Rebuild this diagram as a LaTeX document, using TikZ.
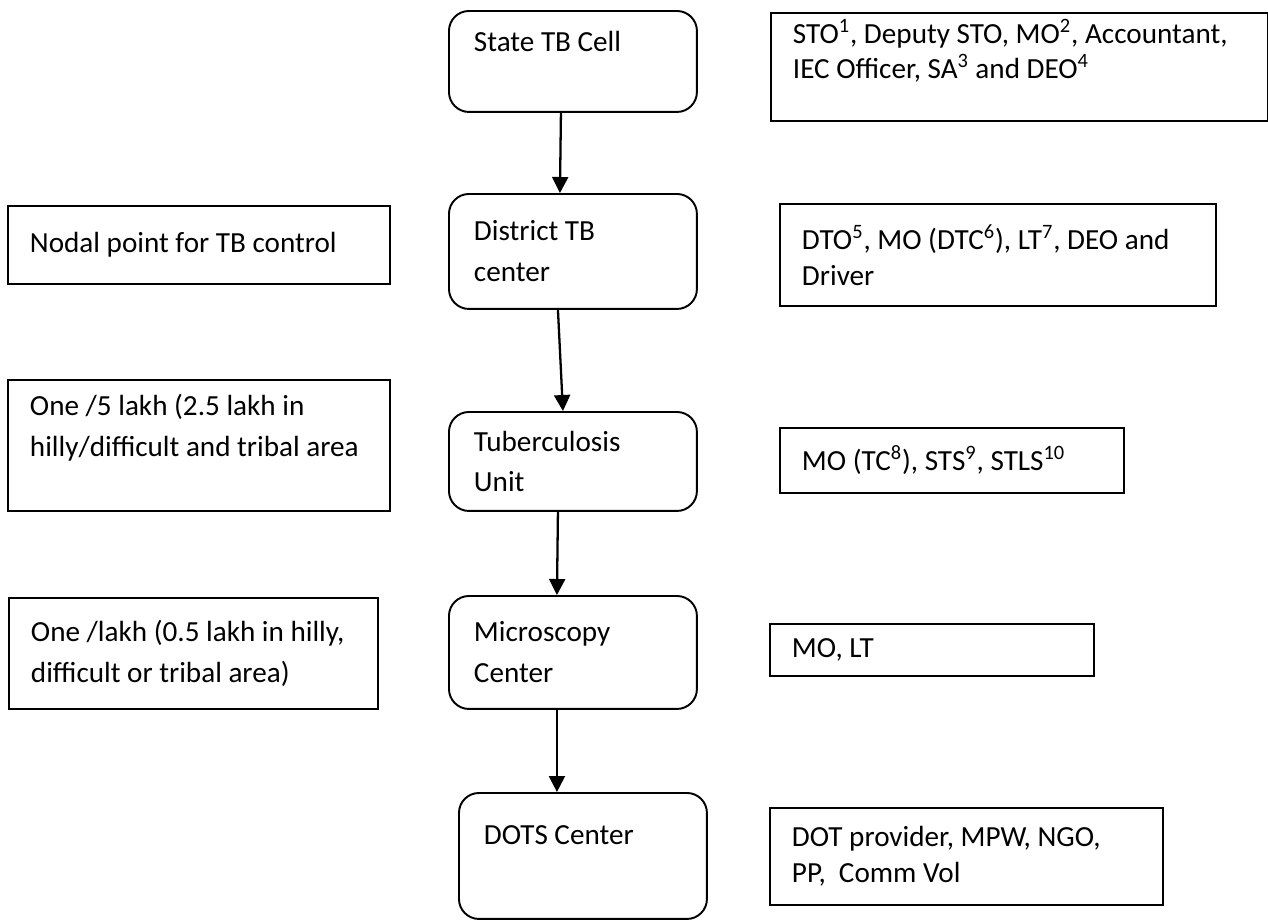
\documentclass[tikz,border=0pt]{standalone}
\usepackage{fontspec}
\setmainfont{Carlito}
\usetikzlibrary{arrows.meta}

\begin{document}
\begin{tikzpicture}[
		x=0.02cm, y=-0.02cm,
		every node/.style={
				font=\fontsize{16.6}{23.3}\selectfont,
				execute at begin node={\spaceskip=0pt\xspaceskip=0pt},
			},
		stage/.style={draw, line width=1.1pt, rounded corners=0.4cm,
				anchor=north west, align=flush left, inner xsep=0.5cm},
		staff/.style={draw, line width=1.1pt, anchor=north west, align=flush left,
				inner xsep=0.44cm, font=\fontsize{16.6}{20.4}\selectfont},
		note/.style={draw, line width=1.1pt, anchor=north west, align=flush left,
				inner xsep=0.44cm},
		flow/.style={line width=1.3pt, -{Triangle[length=0.32cm, width=0.32cm]}},
	]
	\useasboundingbox (0,0) rectangle (1268,921);

	% levels of the programme
	\node[stage, text width=3.96cm, minimum width=4.96cm, minimum height=2.02cm] (state) at (448,10) {State TB Cell\\ \mbox{}};
	\node[stage, text width=3.96cm, minimum width=4.96cm, minimum height=2.30cm] (district) at (448,193) {District TB\\ center};
	\node[stage, text width=3.96cm, minimum width=4.96cm, minimum height=1.98cm] (tu) at (448,411) {Tuberculosis\\ Unit};
	\node[stage, text width=3.96cm, minimum width=4.96cm, minimum height=2.26cm] (micro) at (448,595) {Microscopy\\ Center};
	\node[stage, text width=3.96cm, minimum width=4.96cm, minimum height=2.52cm] (dots) at (458,792) {DOTS Center\\ \mbox{}};

	% staff at each level
	\node[staff, text width=9.06cm, minimum width=9.94cm, minimum height=2.06cm] (stateStaff) at (770,12)
		{STO\textsuperscript{1}, Deputy STO, MO\textsuperscript{2}, Accountant,\\ IEC Officer, SA\textsuperscript{3} and DEO\textsuperscript{4}\\ \mbox{}};
	\node[staff, text width=7.84cm, minimum width=8.72cm, minimum height=2.04cm] (districtStaff) at (779,203)
		{DTO\textsuperscript{5}, MO (DTC\textsuperscript{6}), LT\textsuperscript{7}, DEO and\\ Driver};
	\node[staff, text width=6.00cm, minimum width=6.88cm, minimum height=1.30cm] (tuStaff) at (779,427)
		{MO (TC\textsuperscript{8}), STS\textsuperscript{9}, STLS\textsuperscript{10}};
	\node[staff, text width=5.60cm, minimum width=6.48cm, minimum height=1.04cm] (microStaff) at (769,623) {MO, LT};
	\node[staff, text width=6.98cm, minimum width=7.86cm, minimum height=1.94cm] (dotsStaff) at (769,807)
		{DOT provider, MPW, NGO,\\ PP, \ Comm Vol};

	% norms
	\node[note, text width=6.76cm, minimum width=7.64cm, minimum height=1.56cm] (districtNote) at (7,205) {Nodal point for TB control};
	\node[note, text width=6.76cm, minimum width=7.64cm, minimum height=2.62cm] (tuNote) at (7,379)
		{One /5 lakh (2.5 lakh in\\ hilly/difficult and tribal area\\ \mbox{}};
	\node[note, text width=6.50cm, minimum width=7.38cm, minimum height=2.22cm] (microNote) at (8,597)
		{One /lakh (0.5 lakh in hilly,\\ difficult or tribal area)};

	\foreach \from/\to/\s/\t in {state/district/-12/-13, district/tu/-15/-10, tu/micro/-15/-16, micro/dots/-16/-26} {
			\draw[flow] ([xshift=\s*0.02cm]\from.south) -- ([xshift=\t*0.02cm]\to.north);
		}
\end{tikzpicture}
\end{document}
